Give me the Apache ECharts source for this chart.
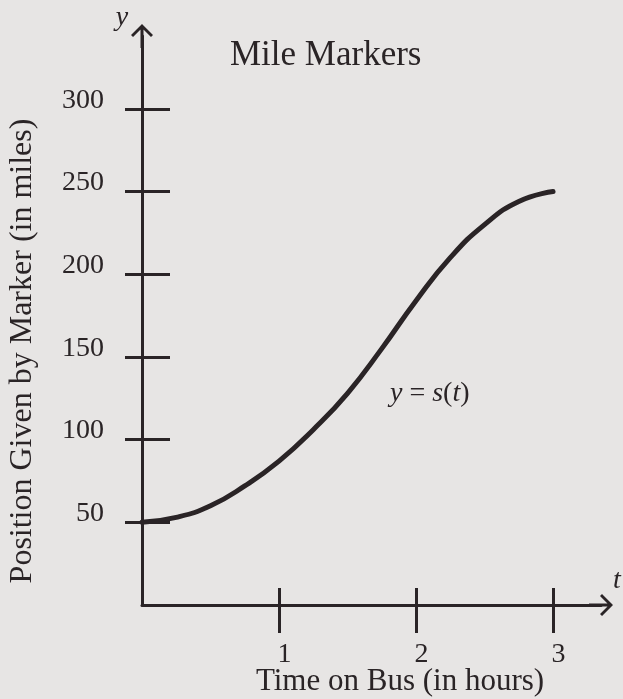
<!DOCTYPE html>
<html>
<head>
<meta charset="utf-8">
<title>Mile Markers</title>
<script src="https://cdn.jsdelivr.net/npm/echarts@6/dist/echarts.min.js"></script>
<style>
  html, body { margin: 0; padding: 0; background: #e7e5e4; }
  #chart { width: 623px; height: 699px; }
</style>
</head>
<body>
<div id="chart"></div>
<script>
// Hours on the bus and the mile marker read at each time
const hours = [0, 0.25, 0.5, 0.75, 1, 1.25, 1.5, 1.75, 2, 2.25, 2.5, 2.75, 3];
const position = [50, 53, 60, 72, 87, 106, 128, 155, 184, 210, 230, 244, 250];

// Tick marks and their labels
const hourTicks = [1, 2, 3];
const mileTicks = [50, 100, 150, 200, 250, 300];

const ink = '#2a2426';
const serif = '"Liberation Serif", "DejaVu Serif", serif';

// Open chevron arrow head with a short stem so the tip sits at the axis end
const arrowPath = 'path://M11,0 L22,11 L20,13 L11,4 L2,13 L0,11 Z M9.5,2 L12.5,2 L12.5,24 L9.5,24 Z';

const points = hours.map((h, i) => [h, position[i]]);

const chart = echarts.init(document.getElementById('chart'), null, { renderer: 'canvas' });

const yMax = 344;
const xMax = 3.35;

// Text placed by its baseline: middle of the em box sits ~0.34em above it
function mid(baseline, size) { return baseline - 0.34 * size; }

chart.setOption({
  backgroundColor: '#e7e5e4',
  animation: false,
  grid: { left: 142, right: 22, top: 36, bottom: 94 },
  xAxis: [
    {
      type: 'value', min: 0, max: xMax, position: 'bottom',
      axisLine: { show: true, symbol: ['none', arrowPath], symbolSize: [25, 24],
                  lineStyle: { color: ink, width: 3 } },
      axisTick: { show: true, inside: false, length: 28, customValues: hourTicks,
                  lineStyle: { color: ink, width: 3 } },
      axisLabel: { show: true, customValues: hourTicks, margin: 36, padding: [0, 0, 0, 11],
                   color: ink, fontFamily: serif, fontSize: 28 },
      splitLine: { show: false }
    },
    {
      type: 'value', min: 0, max: xMax, position: 'bottom',
      axisLine: { show: false },
      axisTick: { show: true, inside: true, length: 17, customValues: hourTicks,
                  lineStyle: { color: ink, width: 3 } },
      axisLabel: { show: false },
      splitLine: { show: false }
    }
  ],
  yAxis: [
    {
      type: 'value', min: 0, max: yMax, position: 'left',
      axisLine: { show: true, symbol: ['none', arrowPath], symbolSize: [22, 24],
                  lineStyle: { color: ink, width: 3 } },
      axisTick: { show: true, inside: true, length: 28, customValues: mileTicks,
                  lineStyle: { color: ink, width: 3 } },
      axisLabel: { show: true, customValues: mileTicks, margin: 38,
                   verticalAlign: 'bottom', lineHeight: 17,
                   color: ink, fontFamily: serif, fontSize: 28 },
      splitLine: { show: false }
    },
    {
      type: 'value', min: 0, max: yMax, position: 'left',
      axisLine: { show: false },
      axisTick: { show: true, inside: false, length: 17, customValues: mileTicks,
                  lineStyle: { color: ink, width: 3 } },
      axisLabel: { show: false },
      splitLine: { show: false }
    }
  ],
  series: [{
    type: 'line',
    xAxisIndex: 0,
    yAxisIndex: 0,
    data: points,
    smooth: 0.5,
    showSymbol: false,
    symbol: 'none',
    lineStyle: { color: ink, width: 5, cap: 'round' }
  }],
  graphic: [
    { type: 'text', x: 230, y: mid(68, 35),
      style: { text: 'Mile Markers', fill: ink, font: '35px ' + serif,
               align: 'left', verticalAlign: 'middle' } },
    { type: 'text', x: 400, y: mid(692, 31),
      style: { text: 'Time on Bus (in hours)', fill: ink, font: '31px ' + serif,
               align: 'center', verticalAlign: 'middle' } },
    { type: 'text', x: 23, y: 351, rotation: Math.PI / 2,
      style: { text: 'Position Given by Marker (in miles)', fill: ink, font: '32px ' + serif,
               align: 'center', verticalAlign: 'middle' } },
    { type: 'text', x: 122, y: mid(27, 28),
      style: { text: 'y', fill: ink, font: 'italic 28px ' + serif,
               align: 'center', verticalAlign: 'middle' } },
    { type: 'text', x: 613, y: mid(590, 28),
      style: { text: 't', fill: ink, font: 'italic 28px ' + serif,
               align: 'left', verticalAlign: 'middle' } },
    { type: 'text', x: 390, y: mid(403, 28),
      style: {
        text: '{i|y} = {i|s}({i|t})',
        fill: ink, font: '28px ' + serif, align: 'left', verticalAlign: 'middle',
        rich: { i: { fontStyle: 'italic', fontFamily: serif, fontSize: 28, fill: ink } }
      } }
  ]
});
</script>
</body>
</html>
